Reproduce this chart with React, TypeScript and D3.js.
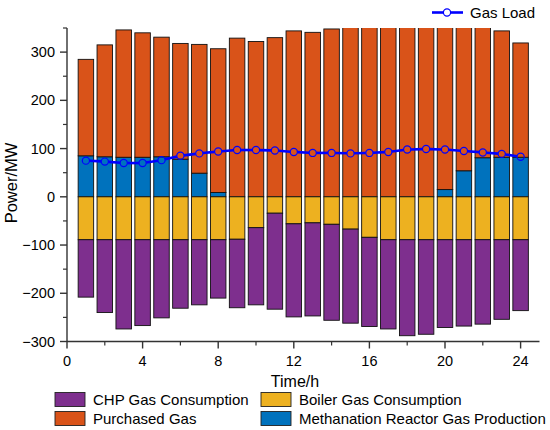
import * as d3 from "d3";

// hours 1..24
const hours = d3.range(1, 25);

// positive side (stacked: methanation at bottom, purchased on top)
const methanation = [85, 83, 82, 82, 83, 78, 49, 9, 0, 0, 0, 0, 0, 0, 0, 0, 0, 0, 0, 15, 54, 81, 82, 82];
const purchased = [200, 232, 264, 258, 248, 240, 267, 298, 329, 322, 330, 344, 341, 348, 358, 362, 365, 368, 366, 345, 306, 276, 262, 237];

// negative side (boiler from 0 down, CHP below)
const boiler = [-89, -89, -89, -89, -89, -89, -89, -89, -88, -64, -34, -56, -54, -57, -67, -84, -89, -89, -89, -89, -89, -89, -89, -89];
const chp = [-119, -151, -185, -178, -162, -142, -135, -121, -142, -160, -199, -193, -193, -199, -195, -185, -185, -199, -196, -182, -179, -175, -165, -147];

const gasLoad = [75, 73, 70, 70, 76, 85, 90, 94, 97, 97, 96, 93, 91, 91, 90, 91, 93, 98, 99, 98, 95, 92, 89, 83];

const xTicks = [0, 4, 8, 12, 16, 20, 24];
const yTicks = [-300, -200, -100, 0, 100, 200, 300];

const keys = ["methanation", "purchased", "boiler", "chp"] as const;
const colors: Record<string, string> = {
  chp: "#7E2F8E",
  purchased: "#D95319",
  boiler: "#EDB120",
  methanation: "#0072BD",
};
const labels: Record<string, string> = {
  chp: "CHP Gas Consumption",
  boiler: "Boiler Gas Consumption",
  purchased: "Purchased Gas",
  methanation: "Methanation Reactor Gas Production",
};

const width = 550;
const height = 430;
const font = "Arial, 'Liberation Sans', sans-serif";
const axisColor = "#333";

const App = () => {
  const x = d3.scaleLinear().domain([0, 25]).range([67, 539.5]);
  const y = d3.scaleLinear().domain([-300, 350]).range([341.5, 28]);
  const barW = x(0.82) - x(0);

  const rows = hours.map((h, i) => ({
    hour: h,
    methanation: methanation[i],
    purchased: purchased[i],
    boiler: boiler[i],
    chp: chp[i],
  }));
  const series = d3
    .stack<any>()
    .keys(keys as unknown as string[])
    .offset(d3.stackOffsetDiverging)(rows);

  const pts = hours.map((h, i) => [x(h), y(gasLoad[i])] as [number, number]);
  const r = 3.6;

  // line segments stop at the hollow markers
  const segs = pts.slice(1).map((p, i) => {
    const a = pts[i];
    const dx = p[0] - a[0];
    const dy = p[1] - a[1];
    const len = Math.hypot(dx, dy);
    const ux = dx / len;
    const uy = dy / len;
    return [a[0] + ux * r, a[1] + uy * r, p[0] - ux * r, p[1] - uy * r];
  });

  const minorY = d3.range(-250, 351, 100);
  const minorX = d3.range(2, 25, 4);

  const legendItems = [
    { key: "chp", col: 0, row: 0 },
    { key: "boiler", col: 1, row: 0 },
    { key: "purchased", col: 0, row: 1 },
    { key: "methanation", col: 1, row: 1 },
  ];
  const legendX = [55, 261];
  const legendY = [392.5, 411.5];

  return (
    <svg
      width={width}
      height={height}
      viewBox={`0 0 ${width} ${height}`}
      style={{ position: "absolute", left: 0, top: 0, background: "#fff" }}
      fontFamily={font}
    >
      <defs>
        <clipPath id="plot">
          <rect x={x(0)} y={y(350)} width={x(25) - x(0)} height={y(-300) - y(350)} />
        </clipPath>
      </defs>

      {/* Bars */}
      <g clipPath="url(#plot)">
        {series.map((s) => (
          <g key={s.key}>
            {s.map((d, i) => {
              const y0 = Math.min(y(d[0]), y(d[1]));
              const h = Math.abs(y(d[0]) - y(d[1]));
              if (h < 0.01) return null;
              return (
                <rect
                  key={i}
                  x={x(hours[i]) - barW / 2}
                  y={y0}
                  width={barW}
                  height={h}
                  fill={colors[s.key]}
                  stroke="#111"
                  strokeWidth={0.9}
                />
              );
            })}
          </g>
        ))}
      </g>

      {/* Gas load line */}
      <g>
        {segs.map((s, i) => (
          <line key={i} x1={s[0]} y1={s[1]} x2={s[2]} y2={s[3]} stroke="#0000FF" strokeWidth={2.6} />
        ))}
        {pts.map((p, i) => (
          <circle key={i} cx={p[0]} cy={p[1]} r={r} fill="none" stroke="#0000FF" strokeWidth={1.2} />
        ))}
      </g>

      {/* Y axis */}
      <line x1={x(0)} x2={x(0)} y1={y(350)} y2={y(-300)} stroke={axisColor} strokeWidth={1.4} />
      {yTicks.map((t) => (
        <g key={t} transform={`translate(${x(0)}, ${y(t)})`}>
          <line x1={-7} x2={0} stroke={axisColor} strokeWidth={1.4} />
          <text x={-12} dy="0.35em" fontSize={14.5} textAnchor="end" fill="#000">
            {t < 0 ? `\u2212${-t}` : t}
          </text>
        </g>
      ))}
      {minorY.map((t) => (
        <line key={t} x1={x(0) - 4} x2={x(0)} y1={y(t)} y2={y(t)} stroke={axisColor} strokeWidth={1.2} />
      ))}

      {/* X axis */}
      <line x1={x(0)} x2={x(25)} y1={y(-300)} y2={y(-300)} stroke={axisColor} strokeWidth={1.4} />
      {xTicks.map((t) => (
        <g key={t} transform={`translate(${x(t)}, ${y(-300)})`}>
          <line y1={0} y2={7} stroke={axisColor} strokeWidth={1.4} />
          <text y={24} fontSize={14.5} textAnchor="middle" fill="#000">
            {t}
          </text>
        </g>
      ))}
      {minorX.map((t) => (
        <line key={t} x1={x(t)} x2={x(t)} y1={y(-300)} y2={y(-300) + 4} stroke={axisColor} strokeWidth={1.2} />
      ))}

      {/* Axis titles */}
      <text x={295} y={387} fontSize={16} textAnchor="middle" fill="#000">
        Time/h
      </text>
      <text transform="translate(17, 183) rotate(-90)" fontSize={16.5} textAnchor="middle" fill="#000">
        Power/MW
      </text>

      {/* Gas load legend */}
      <line x1={432} x2={443.5} y1={12.5} y2={12.5} stroke="#0000FF" strokeWidth={2.6} />
      <line x1={450.5} x2={463} y1={12.5} y2={12.5} stroke="#0000FF" strokeWidth={2.6} />
      <circle cx={447} cy={12.5} r={r} fill="#fff" stroke="#0000FF" strokeWidth={1.2} />
      <text x={470} y={18} fontSize={15} fill="#000">
        Gas Load
      </text>

      {/* Bottom legend */}
      {legendItems.map((it) => (
        <g key={it.key} transform={`translate(${legendX[it.col]}, ${legendY[it.row]})`}>
          <rect width={30} height={14} fill={colors[it.key]} stroke="#222" strokeWidth={0.9} />
          <text x={38} y={12} fontSize={15} fill="#000">
            {labels[it.key]}
          </text>
        </g>
      ))}
    </svg>
  );
};

export default App;
